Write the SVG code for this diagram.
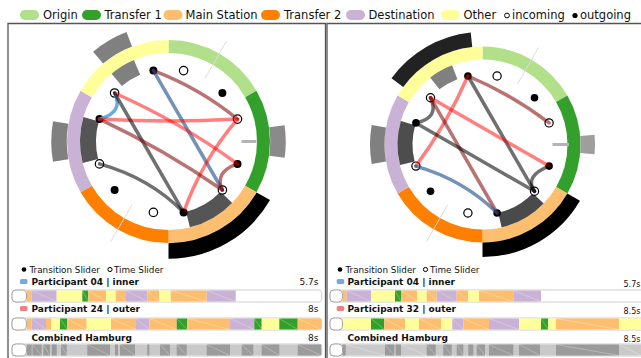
<svg xmlns="http://www.w3.org/2000/svg" width="641" height="358" viewBox="0 0 641 358">
<style>
text{font-family:"DejaVu Sans","Liberation Sans",sans-serif;fill:#111}
.lg{font-size:11.5px}
.sm{font-size:8.8px}
.b{font-size:9px;font-weight:bold}
.tm{font-size:9px}
.tmr{font-size:8px}
.ring{fill:none;stroke-width:13}
.ringr{fill:none;stroke-width:13}
.ob{fill:none;stroke-width:15.5}
.ib{fill:none;stroke-width:16}
.obr{fill:none;stroke-width:14.5}
.ibr{fill:none;stroke-width:15}
.faint{stroke:#dcdcdc;stroke-width:1}
.tick{stroke:#b4b4b4;stroke-width:3}
.e{fill:none;stroke-width:3.5;stroke-linecap:round}
.red{stroke:#ff0000;stroke-opacity:.5}
.brown{stroke:#800000;stroke-opacity:.55}
.steel{stroke:#1f4f8a;stroke-opacity:.62}
.lblue{stroke:#6fa8dc}
.gray{stroke:#000;stroke-opacity:.56}
.nin{fill:#fff;stroke:#000;stroke-width:1.2}
.nout{fill:#000}
.frame{fill:none;stroke:#555;stroke-width:1.3}
.bar{fill:#fff;stroke:#cfcfcf;stroke-width:1}
.knob{fill:#fff;stroke:#a8a8a8;stroke-width:1}
.hatch{fill:none;stroke:#fff;stroke-opacity:.45;stroke-width:.6}
.O{fill:#b2df8a}.T1{fill:#33a02c}.M{fill:#fdbf6f}.T2{fill:#ff7f00}.D{fill:#cab2d6}.X{fill:#ffff99}
.dk{fill:#9b9b9b}.lt{fill:#c9c9c9}
</style>

<!-- Legend -->
<g id="legend">
<rect x="20" y="10" width="19" height="10" rx="5" class="O"/><text class="lg" x="43" y="19">Origin</text>
<rect x="82" y="10" width="19" height="10" rx="5" class="T1"/><text class="lg" x="104.5" y="19">Transfer 1</text>
<rect x="163.5" y="10" width="19" height="10" rx="5" class="M"/><text class="lg" x="185.5" y="19">Main Station</text>
<rect x="261" y="10" width="19" height="10" rx="5" class="T2"/><text class="lg" x="284" y="19">Transfer 2</text>
<rect x="346" y="10" width="19" height="10" rx="5" class="D"/><text class="lg" x="368.5" y="19">Destination</text>
<rect x="441" y="10" width="19" height="10" rx="5" class="X"/><text class="lg" x="463.5" y="19">Other</text>
<circle cx="507" cy="15.5" r="2.4" fill="#fff" stroke="#000" stroke-width="1"/><text class="lg" x="512" y="19">incoming</text>
<circle cx="575" cy="15.5" r="2.6" fill="#000"/><text class="lg" x="580" y="19">outgoing</text>
</g>

<!-- Frames -->
<path class="frame" d="M8,360 V23.5 H325.5 V360"/>
<path class="frame" d="M327,360 V23.5 H645"/>

<!-- LEFT PANEL -->
<g id="left-panel">
<g id="left-ring">
<path class="ring" stroke="#b2df8a" d="M168.5,46.5 A95,95 0 0 1 250.77,94"/>
<path class="ring" stroke="#33a02c" d="M250.77,94 A95,95 0 0 1 250.77,189"/>
<path class="ring" stroke="#fdbf6f" d="M250.77,189 A95,95 0 0 1 168.5,236.5"/>
<path class="ring" stroke="#ff7f00" d="M168.5,236.5 A95,95 0 0 1 86.23,189"/>
<path class="ring" stroke="#cab2d6" d="M86.23,189 A95,95 0 0 1 86.23,94"/>
<path class="ring" stroke="#ffff99" d="M86.23,94 A95,95 0 0 1 168.5,46.5"/>
</g>
<g id="left-bars">
<path class="ob" stroke="#808080" d="M98.11,57.62 A109.5,109.5 0 0 1 129.26,39.27"/>
<path class="ob" stroke="#808080" d="M60.66,160.51 A109.5,109.5 0 0 1 60.66,122.49"/>
<path class="ob" stroke="#8a8a8a" d="M276.94,126.26 A109.5,109.5 0 0 1 276.94,156.74"/>
<path class="ob" stroke="#000" d="M263.33,196.25 A109.5,109.5 0 0 1 168.5,251"/>
<path class="ib" stroke="#808080" d="M116.75,79.84 A80.5,80.5 0 0 1 137.05,67.4"/>
<path class="ib" stroke="#555" d="M90.39,160.97 A80.5,80.5 0 0 1 91.12,119.31"/>
<path class="ib" stroke="#555" d="M226.4,197.42 A80.5,80.5 0 0 1 187.97,219.61"/>
<line class="tick" x1="241.5" y1="141.5" x2="256.5" y2="141.5"/>
<line class="faint" x1="205" y1="78.28" x2="226.5" y2="41.04"/>
<line class="faint" x1="132" y1="204.72" x2="110.5" y2="241.96"/>
</g>
<g id="L-other-out"><circle class="nout" cx="153.4" cy="70.6" r="4"/></g>
<g id="L-origin-in"><circle class="nin" cx="183.6" cy="70.6" r="4.2"/></g>
<g id="L-origin-out"><circle class="nout" cx="222.4" cy="93" r="4"/></g>
<g id="L-t1-in"><circle class="nin" cx="237.5" cy="119.1" r="4.2"/></g>
<g id="L-t1-out"><circle class="nout" cx="237.5" cy="163.9" r="4"/></g>
<g id="L-main-in"><circle class="nin" cx="222.4" cy="190" r="4.2"/></g>
<g id="L-main-out"><circle class="nout" cx="183.6" cy="212.4" r="4"/></g>
<g id="L-t2-in"><circle class="nin" cx="153.4" cy="212.4" r="4.2"/></g>
<g id="L-t2-out"><circle class="nout" cx="114.6" cy="190" r="4"/></g>
<g id="L-dest-in"><circle class="nin" cx="99.5" cy="163.9" r="4.2"/></g>
<g id="L-dest-out"><circle class="nout" cx="99.5" cy="119.1" r="4"/></g>
<g id="L-other-in"><circle class="nin" cx="114.6" cy="93" r="4.2"/></g>
<g id="left-connectors">
<path class="e brown" d="M153.4,70.6 Q199.5,88 237.5,119.1"/>
<path class="e steel" d="M153.4,70.6 L222.4,190"/>
<path class="e lblue" d="M114.6,93 Q124,112 99.5,119.1"/>
<path class="e red" d="M114.6,93 Q180,122 237.5,163.9"/>
<path class="e red" d="M99.5,119.1 Q168.5,123 237.5,119.1"/>
<path class="e red" d="M237.5,119.1 Q201.8,160.8 183.6,212.4"/>
<path class="e gray" d="M114.6,93 L183.6,212.4"/>
<path class="e brown" d="M99.5,119.1 Q164,149.3 222.4,190"/>
<path class="e gray" d="M99.5,163.9 Q150,178 183.6,212.4"/>
<path class="e brown" d="M237.5,163.9 Q214,172 222.4,190"/>
</g>
</g>

<!-- RIGHT PANEL -->
<g id="right-panel">
<g id="right-ring">
<path class="ringr" stroke="#b2df8a" d="M482.5,53 A91.5,91.5 0 0 1 561.74,98.75"/>
<path class="ringr" stroke="#33a02c" d="M561.74,98.75 A91.5,91.5 0 0 1 561.74,190.25"/>
<path class="ringr" stroke="#fdbf6f" d="M561.74,190.25 A91.5,91.5 0 0 1 482.5,236"/>
<path class="ringr" stroke="#ff7f00" d="M482.5,236 A91.5,91.5 0 0 1 403.26,190.25"/>
<path class="ringr" stroke="#cab2d6" d="M403.26,190.25 A91.5,91.5 0 0 1 403.26,98.75"/>
<path class="ringr" stroke="#ffff99" d="M403.26,98.75 A91.5,91.5 0 0 1 482.5,53"/>
</g>
<g id="right-bars">
<path class="obr" stroke="#222" d="M397.35,82.63 A105.25,105.25 0 0 1 471.5,39.83"/>
<path class="obr" stroke="#808080" d="M378.85,162.77 A105.25,105.25 0 0 1 378.85,126.23"/>
<path class="obr" stroke="#9e9e9e" d="M587.35,135.32 A105.25,105.25 0 0 1 587.35,153.68"/>
<path class="obr" stroke="#000" d="M573.65,197.13 A105.25,105.25 0 0 1 482.5,249.75"/>
<path class="ibr" stroke="#808080" d="M434.78,83.43 A77.5,77.5 0 0 1 454.72,72.15"/>
<path class="ibr" stroke="#4d4d4d" d="M407.3,163.25 A77.5,77.5 0 0 1 408,123.14"/>
<path class="ibr" stroke="#4a4a4a" d="M538.25,198.34 A77.5,77.5 0 0 1 499.94,220.02"/>
<line class="tick" x1="552.5" y1="144.5" x2="569" y2="144.5"/>
<line class="faint" x1="517.5" y1="83.88" x2="538.5" y2="47.5"/>
<line class="faint" x1="447.5" y1="205.12" x2="426.5" y2="241.5"/>
</g>
<g id="R-other-out"><circle class="nout" cx="467.9" cy="76" r="3.8"/></g>
<g id="R-origin-in"><circle class="nin" cx="497.1" cy="76" r="4.1"/></g>
<g id="R-origin-out"><circle class="nout" cx="534.5" cy="97.7" r="3.8"/></g>
<g id="R-t1-in"><circle class="nin" cx="549.1" cy="122.9" r="4.1"/></g>
<g id="R-t1-out"><circle class="nout" cx="549.1" cy="166.1" r="3.8"/></g>
<g id="R-main-in"><circle class="nin" cx="534.5" cy="191.3" r="4.1"/></g>
<g id="R-main-out"><circle class="nout" cx="497.1" cy="213" r="3.8"/></g>
<g id="R-t2-in"><circle class="nin" cx="467.9" cy="213" r="4.1"/></g>
<g id="R-t2-out"><circle class="nout" cx="430.5" cy="191.3" r="3.8"/></g>
<g id="R-dest-in"><circle class="nin" cx="415.9" cy="166.1" r="4.1"/></g>
<g id="R-dest-out"><circle class="nout" cx="415.9" cy="122.9" r="3.8"/></g>
<g id="R-other-in"><circle class="nin" cx="430.5" cy="97.7" r="4.1"/></g>
<g id="right-connectors">
<path class="e brown" d="M467.9,76 Q511.5,94.3 549.1,122.9"/>
<path class="e gray" d="M467.9,76 L534.5,191.3"/>
<path class="e red" d="M467.9,76 Q447,124 415.9,166.1"/>
<path class="e gray" d="M430.5,97.7 Q440,118 415.9,122.9"/>
<path class="e red" d="M430.5,97.7 L549.1,166.1"/>
<path class="e brown" d="M430.5,97.7 L497.1,213"/>
<path class="e gray" d="M415.9,122.9 L534.5,191.3"/>
<path class="e steel" d="M415.9,166.1 Q464,180 497.1,213"/>
<path class="e gray" d="M549.1,166.1 Q524,176 534.5,191.3"/>
</g>
</g>

<!-- LEFT TIMELINES -->
<g id="left-timelines">
<circle cx="24" cy="269.5" r="2.3" fill="#000"/>
<text class="sm" x="29.5" y="272.8">Transition Slider</text>
<circle cx="110" cy="269.5" r="2.1" fill="#fff" stroke="#000" stroke-width="1"/>
<text class="sm" x="114" y="272.8">Time Slider</text>

<rect x="20" y="279" width="7.5" height="5" rx="1.5" fill="#7aa6de"/>
<text class="b" x="31.5" y="284.5">Participant 04 | inner</text>
<text class="tm" x="318.5" y="284.5" text-anchor="end">5.7s</text>
<rect class="bar" x="12" y="290" width="309.7" height="12" rx="3"/>
<g>
<rect class="M" x="26.7" y="290.5" width="5" height="11"/>
<rect class="D" x="31.7" y="290.5" width="25" height="11"/>
<rect class="X" x="56.7" y="290.5" width="25.6" height="11"/>
<rect class="T1" x="82.3" y="290.5" width="6" height="11"/>
<rect class="M" x="88.3" y="290.5" width="17.7" height="11"/>
<rect class="X" x="106" y="290.5" width="9.7" height="11"/>
<rect class="M" x="115.7" y="290.5" width="10.3" height="11"/>
<rect class="D" x="126" y="290.5" width="21.3" height="11"/>
<rect class="M" x="147.3" y="290.5" width="11.7" height="11"/>
<rect class="X" x="159" y="290.5" width="11.7" height="11"/>
<rect class="M" x="170.7" y="290.5" width="36" height="11"/>
<rect class="D" x="206.7" y="290.5" width="29" height="11"/>
<path class="hatch" d="M31.7,290.5L56.7,301.5M56.7,290.5L82.3,301.5M82.3,290.5L88.3,301.5M88.3,290.5L106,301.5M106,290.5L115.7,301.5M115.7,290.5L126,301.5M126,290.5L147.3,301.5M147.3,290.5L159,301.5M159,290.5L170.7,301.5M170.7,290.5L206.7,301.5M206.7,290.5L235.7,301.5"/>
</g>
<rect class="knob" x="12" y="290" width="14.5" height="12" rx="4"/>

<rect x="20" y="306" width="7.5" height="5" rx="1.5" fill="#f08080"/>
<text class="b" x="31.5" y="311.7">Participant 24 | outer</text>
<text class="tm" x="318.5" y="311.7" text-anchor="end">8s</text>
<rect class="bar" x="12" y="318" width="309.7" height="12" rx="3"/>
<g>
<rect class="M" x="26.7" y="318.5" width="5" height="11"/>
<rect class="D" x="31.7" y="318.5" width="14.3" height="11"/>
<rect class="M" x="46" y="318.5" width="5" height="11"/>
<rect class="X" x="51" y="318.5" width="9" height="11"/>
<rect class="T1" x="60" y="318.5" width="7.3" height="11"/>
<rect class="M" x="67.3" y="318.5" width="19.4" height="11"/>
<rect class="X" x="86.7" y="318.5" width="24.3" height="11"/>
<rect class="M" x="111" y="318.5" width="25" height="11"/>
<rect class="D" x="136" y="318.5" width="13.3" height="11"/>
<rect class="M" x="149.3" y="318.5" width="27.4" height="11"/>
<rect class="T1" x="176.7" y="318.5" width="10.6" height="11"/>
<rect class="M" x="187.3" y="318.5" width="42.7" height="11"/>
<rect class="D" x="230" y="318.5" width="24.3" height="11"/>
<rect class="T1" x="254.3" y="318.5" width="7.4" height="11"/>
<rect class="X" x="261.7" y="318.5" width="17.6" height="11"/>
<rect class="T1" x="279.3" y="318.5" width="18.4" height="11"/>
<rect class="M" x="297.7" y="318.5" width="23.5" height="11"/>
<path class="hatch" d="M31.7,318.5L46,329.5M51,318.5L60,329.5M60,318.5L67.3,329.5M67.3,318.5L86.7,329.5M86.7,318.5L111,329.5M111,318.5L136,329.5M136,318.5L149.3,329.5M149.3,318.5L176.7,329.5M176.7,318.5L187.3,329.5M187.3,318.5L230,329.5M230,318.5L254.3,329.5M254.3,318.5L261.7,329.5M261.7,318.5L279.3,329.5M279.3,318.5L297.7,329.5M297.7,318.5L321.2,329.5"/>
</g>
<rect class="knob" x="12" y="318" width="14.5" height="12" rx="4"/>

<text class="b" x="31.5" y="340.5">Combined Hamburg</text>
<text class="tm" x="318.5" y="340.5" text-anchor="end">8s</text>
<rect class="bar" x="12" y="344" width="309.7" height="12" rx="3"/>
<g>
<rect class="lt" x="26.7" y="344.5" width="294.5" height="11"/>
<rect class="dk" x="26.7" y="344.5" width="5" height="11"/>
<rect class="dk" x="32.5" y="344.5" width="9.2" height="11"/>
<rect class="dk" x="43.3" y="344.5" width="6.7" height="11"/>
<rect class="dk" x="51.7" y="344.5" width="5" height="11"/>
<rect class="dk" x="61" y="344.5" width="5.7" height="11"/>
<rect class="dk" x="87.3" y="344.5" width="22.7" height="11"/>
<rect class="dk" x="115" y="344.5" width="3" height="11"/>
<rect class="dk" x="120" y="344.5" width="15" height="11"/>
<rect class="dk" x="147.3" y="344.5" width="2" height="11"/>
<rect class="dk" x="160" y="344.5" width="10" height="11"/>
<rect class="dk" x="176.7" y="344.5" width="10" height="11"/>
<rect class="dk" x="206.7" y="344.5" width="23.3" height="11"/>
<rect class="dk" x="241.7" y="344.5" width="11.6" height="11"/>
<rect class="dk" x="261.7" y="344.5" width="17.6" height="11"/>
<rect class="dk" x="297.7" y="344.5" width="23.5" height="11"/>
<path class="hatch" d="M32.5,344.5L41.7,355.5M43.3,344.5L50,355.5M61,344.5L66.7,355.5M87.3,344.5L110,355.5M120,344.5L135,355.5M160,344.5L170,355.5M176.7,344.5L186.7,355.5M206.7,344.5L230,355.5M241.7,344.5L253.3,355.5M261.7,344.5L279.3,355.5M297.7,344.5L321.2,355.5"/>
</g>
<rect class="knob" x="12" y="344" width="14.5" height="12" rx="4"/>
</g>

<!-- RIGHT TIMELINES -->
<g id="right-timelines">
<circle cx="340" cy="269.5" r="2.3" fill="#000"/>
<text class="sm" x="345.5" y="272.8">Transition Slider</text>
<circle cx="425.5" cy="269.5" r="2.1" fill="#fff" stroke="#000" stroke-width="1"/>
<text class="sm" x="430" y="272.8">Time Slider</text>

<rect x="336.7" y="279" width="7.5" height="5" rx="1.5" fill="#7aa6de"/>
<text class="b" x="347.5" y="284.5">Participant 04 | inner</text>
<text class="tmr" x="623.5" y="287.3">5.7s</text>
<rect class="bar" x="330" y="290" width="320" height="12" rx="3"/>
<g>
<rect class="M" x="342.3" y="290.5" width="4.4" height="11"/>
<rect class="D" x="346.7" y="290.5" width="24.3" height="11"/>
<rect class="X" x="371" y="290.5" width="24" height="11"/>
<rect class="T1" x="395" y="290.5" width="6" height="11"/>
<rect class="M" x="401" y="290.5" width="16.3" height="11"/>
<rect class="X" x="417.3" y="290.5" width="9.4" height="11"/>
<rect class="M" x="426.7" y="290.5" width="10" height="11"/>
<rect class="D" x="436.7" y="290.5" width="20" height="11"/>
<rect class="M" x="456.7" y="290.5" width="11.6" height="11"/>
<rect class="X" x="468.3" y="290.5" width="10.7" height="11"/>
<rect class="M" x="479" y="290.5" width="34.3" height="11"/>
<rect class="D" x="513.3" y="290.5" width="27.7" height="11"/>
<path class="hatch" d="M346.7,290.5L371,301.5M371,290.5L395,301.5M395,290.5L401,301.5M401,290.5L417.3,301.5M417.3,290.5L426.7,301.5M426.7,290.5L436.7,301.5M436.7,290.5L456.7,301.5M456.7,290.5L468.3,301.5M468.3,290.5L479,301.5M479,290.5L513.3,301.5M513.3,290.5L541,301.5"/>
</g>
<rect class="knob" x="330" y="290" width="12.5" height="12" rx="4"/>

<rect x="336.7" y="306" width="7.5" height="5" rx="1.5" fill="#f08080"/>
<text class="b" x="347.5" y="311.7">Participant 32 | outer</text>
<text class="tmr" x="623.5" y="314">8.5s</text>
<rect class="bar" x="330" y="318" width="320" height="12" rx="3"/>
<g>
<rect class="X" x="342.3" y="318.5" width="28.7" height="11"/>
<rect class="T1" x="371" y="318.5" width="13.3" height="11"/>
<rect class="M" x="384.3" y="318.5" width="20.7" height="11"/>
<rect class="X" x="405" y="318.5" width="14" height="11"/>
<rect class="M" x="419" y="318.5" width="22" height="11"/>
<rect class="X" x="441" y="318.5" width="11.3" height="11"/>
<rect class="D" x="452.3" y="318.5" width="11" height="11"/>
<rect class="M" x="463.3" y="318.5" width="25.7" height="11"/>
<rect class="D" x="489" y="318.5" width="30" height="11"/>
<rect class="X" x="519" y="318.5" width="22" height="11"/>
<rect class="T1" x="541" y="318.5" width="7.3" height="11"/>
<rect class="X" x="548.3" y="318.5" width="7.7" height="11"/>
<rect class="M" x="556" y="318.5" width="63" height="11"/>
<rect class="X" x="619" y="318.5" width="22" height="11"/>
<path class="hatch" d="M342.3,318.5L371,329.5M371,318.5L384.3,329.5M384.3,318.5L405,329.5M405,318.5L419,329.5M419,318.5L441,329.5M441,318.5L452.3,329.5M452.3,318.5L463.3,329.5M463.3,318.5L489,329.5M489,318.5L519,329.5M519,318.5L541,329.5M541,318.5L548.3,329.5M556,318.5L619,329.5M619,318.5L641,329.5"/>
</g>
<rect class="knob" x="330" y="318" width="12.5" height="12" rx="4"/>

<text class="b" x="347.5" y="340.5">Combined Hamburg</text>
<text class="tmr" x="623.5" y="341.5">8.5s</text>
<rect class="bar" x="330" y="344" width="320" height="12" rx="3"/>
<g>
<rect class="lt" x="342.3" y="344.5" width="300" height="11"/>
<rect class="dk" x="342.3" y="344.5" width="3.4" height="11"/>
<rect class="dk" x="385" y="344.5" width="9.3" height="11"/>
<rect class="dk" x="395.7" y="344.5" width="5.3" height="11"/>
<rect class="dk" x="426.7" y="344.5" width="9" height="11"/>
<rect class="dk" x="443.3" y="344.5" width="8.4" height="11"/>
<rect class="dk" x="456.7" y="344.5" width="6.6" height="11"/>
<rect class="dk" x="468.3" y="344.5" width="5" height="11"/>
<rect class="dk" x="476.7" y="344.5" width="8.3" height="11"/>
<rect class="dk" x="489" y="344.5" width="24.3" height="11"/>
<rect class="dk" x="519" y="344.5" width="21" height="11"/>
<rect class="dk" x="556" y="344.5" width="63" height="11"/>
<path class="hatch" d="M345.7,344.5L385,355.5M385,344.5L394.3,355.5M401,344.5L426.7,355.5M426.7,344.5L435.7,355.5M443.3,344.5L451.7,355.5M456.7,344.5L463.3,355.5M476.7,344.5L485,355.5M489,344.5L513.3,355.5M519,344.5L540,355.5M556,344.5L619,355.5M619,344.5L641,355.5"/>
</g>
<rect class="knob" x="330" y="344" width="12.5" height="12" rx="4"/>
</g>
</svg>
